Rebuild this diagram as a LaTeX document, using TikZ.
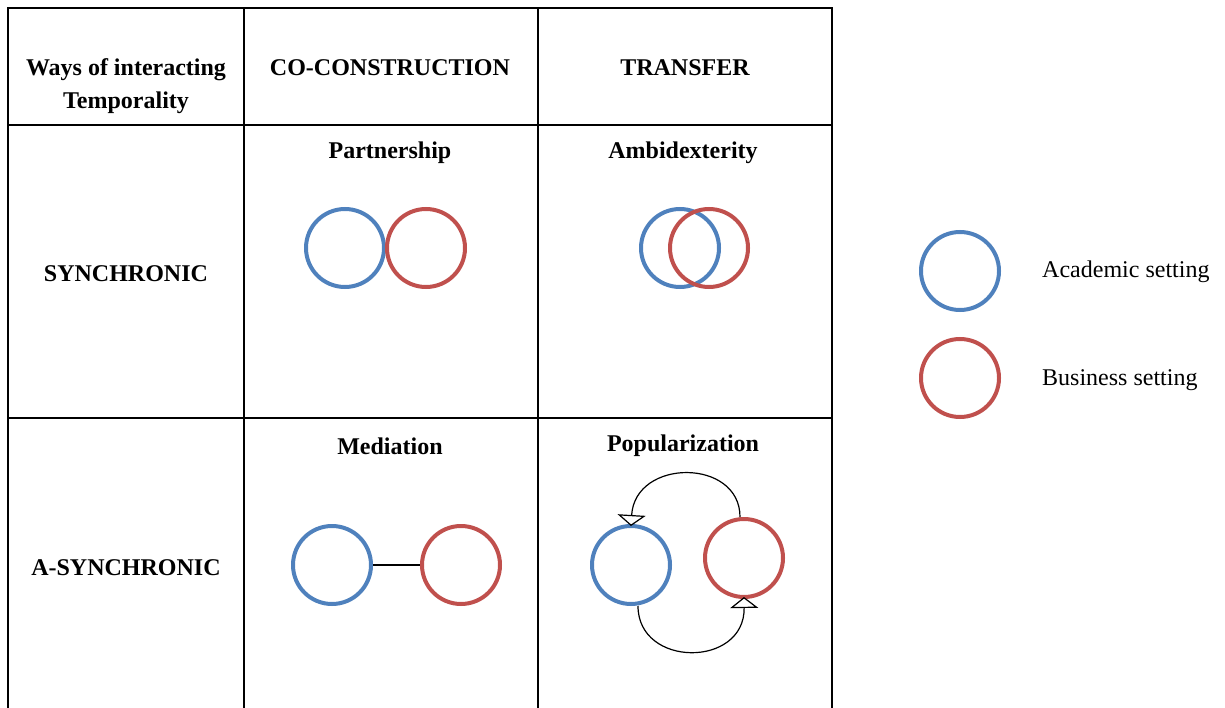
\documentclass[tikz,border=0pt]{standalone}
\usepackage{fontspec}
\setmainfont{Liberation Serif}
\usetikzlibrary{arrows.meta}
\definecolor{acad}{HTML}{4F81BD}
\definecolor{busi}{HTML}{C0504D}
\begin{document}
\begin{tikzpicture}[x=1pt,y=-1pt,
  grid/.style={line width=1.3pt,black},
  hdr/.style={font=\fontsize{24}{33}\selectfont\bfseries,align=center,inner sep=0pt},
  lbl/.style={font=\fontsize{24}{29}\selectfont,anchor=west,inner sep=0pt},
  setc/.style={circle,minimum size=78pt,inner sep=0pt,line width=4pt},
  acadc/.style={setc,draw=acad},
  busic/.style={setc,draw=busi},
  link/.style={line width=1.2pt,black},
  flow/.style={line width=1.2pt,black,-{Triangle[open,width=28pt,length=11pt,line width=1.2pt]}}]
\useasboundingbox (0,0) rectangle (1225,708);
% table grid
\coordinate (tl) at (8,8);
\coordinate (tr) at (832,8);
\draw[grid] (8,708) -- (tl) -- (tr) -- (832,708);
\draw[grid] (244,8) -- (244,708);
\draw[grid] (538,8) -- (538,708);
\draw[grid] (8,125) -- (832,125);
\draw[grid] (8,418) -- (832,418);
% headers
\node[hdr] (h0) at (126,86) {Ways of interacting\\Temporality};
\node[hdr] (h1) at (390,68) {CO-CONSTRUCTION};
\node[hdr] (h2) at (685,68) {TRANSFER};
\node[hdr] (r1) at (126,274) {SYNCHRONIC};
\node[hdr] (r2) at (126,568) {A-SYNCHRONIC};
\node[hdr] (t1) at (390,153) {Partnership};
\node[hdr] (t2) at (683,153) {Ambidexterity};
\node[hdr] (t3) at (390,446) {Mediation};
\node[hdr] (t4) at (683,446) {Popularization};
% partnership
\node[acadc] (pa) at (345,248) {};
\node[busic] (pb) at (426,248) {};
% ambidexterity
\node[acadc] (aa) at (680,248) {};
\node[busic] (ab) at (709,248) {};
% mediation
\node[acadc] (ma) at (332,565) {};
\node[busic] (mb) at (461,565) {};
\draw[link] (ma.east) -- (mb.west);
% popularization
\node[acadc] (qa) at (631,565) {};
\node[busic] (qb) at (744,558) {};
\draw[flow] ([xshift=-4pt]qb.north) .. controls (740,458) and (635,458) .. ([yshift=-2pt]qa.north);
\draw[flow] ([xshift=7pt]qa.south) .. controls (638,668) and (745,668) .. ([yshift=2pt]qb.south);
% legend
\node[acadc] (la) at (960,271) {};
\node[busic] (lb) at (960,378) {};
\node[lbl] (lta) at (1042,272) {Academic setting};
\node[lbl] (ltb) at (1042,380) {Business setting};
\end{tikzpicture}
\end{document}
